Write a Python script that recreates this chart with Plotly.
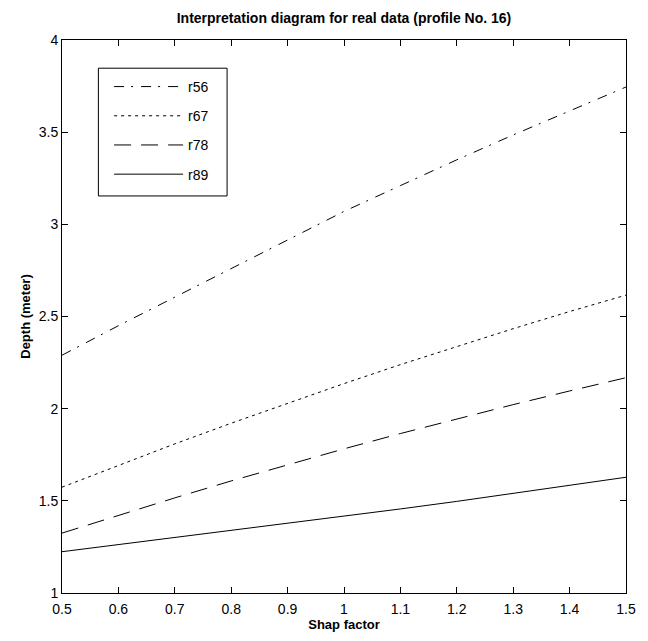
import plotly.graph_objects as go

# Shape factor samples and depth curves for each ratio
shape_factor = [0.5, 0.6, 0.7, 0.8, 0.9, 1.0, 1.1, 1.2, 1.3, 1.4, 1.5]
r56 = [2.29, 2.45, 2.605, 2.76, 2.915, 3.07, 3.21, 3.35, 3.485, 3.615, 3.745]
r67 = [1.574, 1.693, 1.809, 1.921, 2.030, 2.136, 2.239, 2.338, 2.434, 2.527, 2.616]
r78 = [1.325, 1.422, 1.516, 1.608, 1.696, 1.782, 1.865, 1.945, 2.022, 2.096, 2.168]
r89 = [1.224, 1.262, 1.300, 1.338, 1.376, 1.415, 1.456, 1.497, 1.540, 1.584, 1.628]

series = [
    ("r56", r56, "10px,7px,2px,8px"),
    ("r67", r67, "3px,4px"),
    ("r78", r78, "17px,10px"),
    ("r89", r89, "solid"),
]

x_ticks = [0.5, 0.6, 0.7, 0.8, 0.9, 1.0, 1.1, 1.2, 1.3, 1.4, 1.5]
x_labels = ["0.5", "0.6", "0.7", "0.8", "0.9", "1", "1.1", "1.2", "1.3", "1.4", "1.5"]
y_ticks = [1, 1.5, 2, 2.5, 3, 3.5, 4]
y_labels = ["1", "1.5", "2", "2.5", "3", "3.5", "4"]

FONT = "Liberation Sans, Arial, sans-serif"

fig = go.Figure()
for name, vals, dash in series:
    fig.add_trace(go.Scatter(
        x=shape_factor, y=vals, mode="lines", name=name, legendgroup=name,
        line=dict(color="black", width=1, dash=dash),
    ))

axis_common = dict(
    showline=True, linecolor="black", linewidth=1, mirror="ticks",
    ticks="inside", ticklen=6, tickcolor="black", tickwidth=1,
    showgrid=False, zeroline=False,
    tickfont=dict(family=FONT, size=14, color="black"),
)

# frame around the legend entries
fig.add_shape(
    type="rect", xref="paper", yref="paper",
    x0=0.0645, x1=0.2927, y0=0.718, y1=0.949,
    line=dict(color="black", width=1), fillcolor="rgba(0,0,0,0)", layer="above",
)

fig.update_layout(
    width=648, height=641,
    margin=dict(l=62, r=12, t=40, b=48),
    paper_bgcolor="white", plot_bgcolor="white",
    title=dict(
        text="<b>Interpretation diagram for real data (profile No. 16)</b>",
        x=0.5, xanchor="center", xref="paper", y=0.972, yanchor="middle",
        font=dict(family=FONT, size=14, color="black"),
    ),
    xaxis=dict(
        range=[0.5, 1.5], tickvals=x_ticks, ticktext=x_labels,
        ticklabelstandoff=3,
        title=dict(text="<b>Shap factor</b>", standoff=2,
                   font=dict(family=FONT, size=13, color="black")),
        **axis_common,
    ),
    yaxis=dict(
        range=[1, 4], tickvals=y_ticks, ticktext=y_labels,
        title=dict(text="<b>Depth (meter)</b>", standoff=5,
                   font=dict(family=FONT, size=13, color="black")),
        **axis_common,
    ),
    legend=dict(
        x=0.0835, y=0.944, xanchor="left", yanchor="top",
        bgcolor="rgba(0,0,0,0)", borderwidth=0,
        font=dict(family=FONT, size=14, color="black"),
        itemwidth=69, tracegroupgap=8,
    ),
    showlegend=True,
)

fig.write_html("out.html")
